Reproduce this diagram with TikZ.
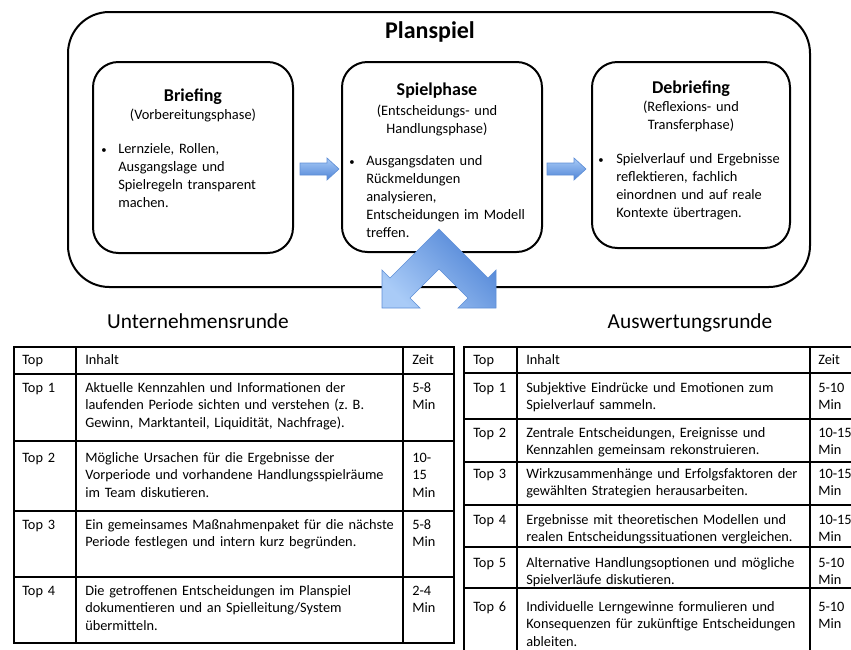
\documentclass[tikz,border=0pt]{standalone}
\usepackage{fontspec}
\setmainfont{Carlito}
\usepackage{tikz}
\usetikzlibrary{positioning}

\definecolor{pfeilhell}{HTML}{A9CBF7}
\definecolor{pfeildunkel}{HTML}{4F84D6}
\definecolor{pfeilrand}{HTML}{5F8FD6}

\newcommand{\boxfont}{\fontsize{10.8}{13.6}\selectfont\frenchspacing}
\newcommand{\tabfont}{\fontsize{10.75}{13.2}\selectfont\frenchspacing}

\tikzset{
  phase/.style={draw, line width=1.5pt, rounded corners=19pt},
  phasetitle/.style={anchor=base, inner sep=0pt, font=\fontsize{13.5}{16}\selectfont\bfseries},
  phasesub/.style={anchor=base, inner sep=0pt, align=center, text width=130pt, font=\boxfont},
  bulletpt/.style={anchor=base, inner sep=0pt, font=\fontsize{8}{10}\selectfont},
  bullettext/.style={anchor=base west, inner sep=0pt, align=left, text width=130pt, font=\boxfont},
  runde/.style={anchor=base, inner sep=0pt, font=\fontsize{16}{19}\selectfont},
  tabline/.style={draw, line width=0.9pt},
  cell/.style={anchor=base west, inner sep=0pt, align=left, text width=#1, font=\tabfont},
  cell/.default=40pt,
  pfeil/.style={draw=pfeilrand, line width=0.5pt, top color=pfeilhell, bottom color=pfeildunkel},
}

\begin{document}
\begin{tikzpicture}[x=0.75pt, y=-0.75pt]
  \useasboundingbox (0,0) rectangle (851,650);
  \clip (0,0) rectangle (851,650);

  % Planspiel und die drei Phasen
  \draw[phase, rounded corners=31pt] (68,12) rectangle (810,287);
  \node[anchor=base, inner sep=0pt, font=\fontsize{18}{21}\selectfont\bfseries] (planspiel) at (430,38) {Planspiel};

  \draw[phase] (93,62) rectangle (293,253);
  \draw[phase] (342,62) rectangle (542,252);
  \draw[phase] (592,62) rectangle (790,248);

  \node[phasetitle] (briefing) at (193,101) {Briefing};
  \node[phasesub] (briefingsub) at (193,119) {(Vorbereitungsphase)};
  \node[bulletpt] (briefingdot) at (104,153) {•};
  \node[bullettext] (briefingtext) at (118,153) {Lernziele, Rollen,\\Ausgangslage und\\Spielregeln transparent\\machen.};

  \node[phasetitle] (spielphase) at (437,95) {Spielphase};
  \node[phasesub] (spielphasesub) at (437,115) {(Entscheidungs- und\\Handlungsphase)};
  \node[bulletpt] (spielphasedot) at (352,165) {•};
  \node[bullettext] (spielphasetext) at (366,165) {Ausgangsdaten und\\Rückmeldungen\\analysieren,\\Entscheidungen im Modell\\treffen.};

  \node[phasetitle] (debriefing) at (691,93) {Debriefing};
  \node[phasesub] (debriefingsub) at (691,111) {(Reflexions- und\\Transferphase)};
  \node[bulletpt] (debriefingdot) at (601,163) {•};
  \node[bullettext] (debriefingtext) at (616,163) {Spielverlauf und Ergebnisse\\reflektieren, fachlich\\einordnen und auf reale\\Kontexte übertragen.};

  % Blockpfeile
  \shadedraw[pfeil] (300,163) -- (327,163) -- (327,158) -- (339,169) -- (327,180) -- (327,175) -- (300,175) -- cycle;
  \shadedraw[pfeil] (547,163) -- (574,163) -- (574,158) -- (586,169) -- (574,180) -- (574,175) -- (547,175) -- cycle;
  \shadedraw[pfeil, top color=pfeildunkel, bottom color=pfeilhell, shading angle=-45]
    (439,229) -- (390,278) -- (382,270) -- (382,308) -- (420,308) -- (410,298) -- (439,269)
    -- (468,298) -- (458,308) -- (496,308) -- (496,270) -- (488,278) -- cycle;

  \node[runde] (unternehmen) at (198,328) {Unternehmensrunde};
  \node[runde] (auswertung) at (690,328) {Auswertungsrunde};

  % Tabelle links
  \draw[tabline] (14,347) rectangle (454,643);
  \foreach \y in {374,441,511,577} \draw[tabline] (14,\y) -- (454,\y);
  \foreach \x in {76,403} \draw[tabline] (\x,347) -- (\x,643);

  \node[cell] (ltop) at (22,364) {Top};
  \node[cell=250pt] (linhalt) at (85,364) {Inhalt};
  \node[cell] (lzeit) at (412,364) {Zeit};
  \foreach \r/\y/\inhalt/\zeit in {
    1/392/{Aktuelle Kennzahlen und Informationen der\\laufenden Periode sichten und verstehen (z. B.\\Gewinn, Marktanteil, Liquidität, Nachfrage).}/{5-8\\Min},
    2/462/{Mögliche Ursachen für die Ergebnisse der\\Vorperiode und vorhandene Handlungsspielräume\\im Team diskutieren.}/{10-\\15\\Min},
    3/529/{Ein gemeinsames Maßnahmenpaket für die nächste\\Periode festlegen und intern kurz begründen.}/{5-8\\Min},
    4/595/{Die getroffenen Entscheidungen im Planspiel\\dokumentieren und an Spielleitung/System\\übermitteln.}/{2-4\\Min}}{
    \node[cell] (ltop\r) at (22,\y) {Top \r};
    \node[cell=250pt] (linhalt\r) at (85,\y) {\inhalt};
    \node[cell] (lzeit\r) at (412,\y) {\zeit};
  }

  % Tabelle rechts
  \draw[tabline] (880,347) -- (464,347) -- (464,670);
  \foreach \y in {373,419,462,505,547,588} \draw[tabline] (464,\y) -- (880,\y);
  \foreach \x in {517,810} \draw[tabline] (\x,347) -- (\x,670);

  \node[cell] (rtop) at (473,364) {Top};
  \node[cell=250pt] (rinhalt) at (526,364) {Inhalt};
  \node[cell] (rzeit) at (818,364) {Zeit};
  \foreach \r/\y/\inhalt/\zeit in {
    1/392/{Subjektive Eindrücke und Emotionen zum\\Spielverlauf sammeln.}/{5-10\\Min},
    2/437/{Zentrale Entscheidungen, Ereignisse und\\Kennzahlen gemeinsam rekonstruieren.}/{10-15\\Min},
    3/478/{Wirkzusammenhänge und Erfolgsfaktoren der\\gewählten Strategien herausarbeiten.}/{10-15\\Min},
    4/524/{Ergebnisse mit theoretischen Modellen und\\realen Entscheidungssituationen vergleichen.}/{10-15\\Min},
    5/567/{Alternative Handlungsoptionen und mögliche\\Spielverläufe diskutieren.}/{5-10\\Min},
    6/611/{Individuelle Lerngewinne formulieren und\\Konsequenzen für zukünftige Entscheidungen\\ableiten.}/{5-10\\Min}}{
    \node[cell] (rtop\r) at (473,\y) {Top \r};
    \node[cell=250pt] (rinhalt\r) at (526,\y) {\inhalt};
    \node[cell] (rzeit\r) at (818,\y) {\zeit};
  }
\end{tikzpicture}
\end{document}
